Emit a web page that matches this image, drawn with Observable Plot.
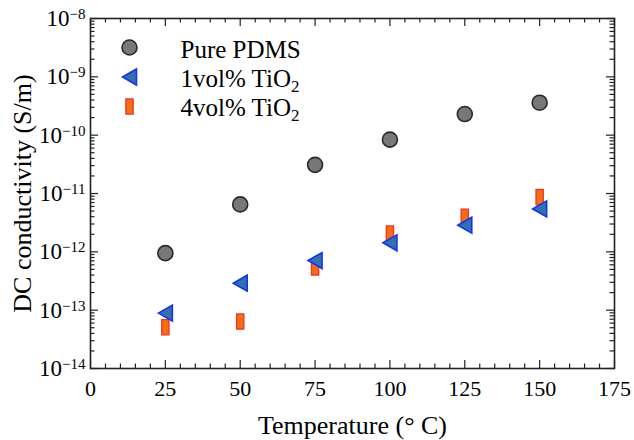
<!DOCTYPE html>
<html><head><meta charset="utf-8">
<script src="https://cdn.jsdelivr.net/npm/d3@7"></script>
<script src="https://cdn.jsdelivr.net/npm/@observablehq/plot@0.6"></script>
<style>
body{margin:0;background:#fff}
#chart svg{font-family:"Liberation Serif","Times New Roman",serif;background:#fff}
#chart svg text{font-family:"Liberation Serif","Times New Roman",serif}
</style>
</head><body><div id="chart"></div>
<script>
// ---- data ----
const temperatures = [25, 50, 75, 100, 125, 150];
const purePDMS   = [9.5e-13, 6.5e-12, 3.1e-11, 8.4e-11, 2.3e-10, 3.6e-10];
const tio2_1vol  = [8.9e-14, 2.9e-13, 7.1e-13, 1.43e-12, 2.86e-12, 5.45e-12];
const tio2_4vol  = [5.1e-14, 6.4e-14, 5.4e-13, 2.06e-12, 4.0e-12, 8.65e-12];
const seriesNames = ["Pure PDMS", "1vol% TiO2", "4vol% TiO2"];
const xMajorTicks = [0, 25, 50, 75, 100, 125, 150, 175];
const yDecades = [-14, -13, -12, -11, -10, -9, -8];
const xLabel = "Temperature (° C)";
const yLabel = "DC conductivity (S/m)";

// ---- derived tables ----
const rows = (vals) => temperatures.map((t, i) => ({t, v: vals[i]}));
const xMinorTicks = d3.range(0, 176, 5).filter(d => d % 25 !== 0);
const yMajorTicks = yDecades.map(e => Math.pow(10, e));
const yMinorTicks = yDecades.slice(0, -1).flatMap(e => d3.range(2, 10).map(k => k * Math.pow(10, e)));

const W = 634, H = 440, mL = 90, mR = 20, mT = 18, mB = 72;
const fw = W - mL - mR, fh = H - mT - mB;
const serif = '"Liberation Serif","Times New Roman",serif';

const leftTriangle = {draw(ctx, size) {
  const r = Math.sqrt(size / Math.PI);
  ctx.moveTo(-0.875 * r, 0); ctx.lineTo(0.875 * r, -r); ctx.lineTo(0.875 * r, r); ctx.closePath();
}};
const tallRect = {draw(ctx, size) {
  const r = Math.sqrt(size / Math.PI);
  ctx.rect(-0.45 * r, -0.95 * r, 0.9 * r, 1.9 * r);
}};

const circleStyle = {r: 7.5, symbol: "circle", fill: "#787878", stroke: "#2a2a2a", strokeWidth: 1.6};
const triStyle = {r: 8, symbol: leftTriangle, fill: "#3370ad", stroke: "#1636e6", strokeWidth: 1.6};
const rectStyle = {r: 8, symbol: tallRect, fill: "#f56e12", stroke: "#ea3a2e", strokeWidth: 1.4};

const tickStyle = {stroke: "#222", strokeWidth: 1.2};
const majorLen = 8, minorLen = 4.5;

const legendMarks = [circleStyle, triStyle, rectStyle].flatMap((st, i) => [
  Plot.dot([0], {x: null, y: null, frameAnchor: "top-left", dx: 39, dy: 29 + i * 29.5, ...st}),
  Plot.text([seriesNames[i]], {x: null, y: null, text: d => d, frameAnchor: "top-left", dx: 90, dy: 31 + i * 29, textAnchor: "start", lineAnchor: "middle", fontSize: 25, fontFamily: serif, fill: "#000"})
]);

const chart = Plot.plot({
  width: W, height: H,
  marginLeft: mL, marginRight: mR, marginTop: mT, marginBottom: mB,
  style: {fontFamily: serif, color: "#000", background: "#fff"},
  x: {domain: [0, 175]},
  y: {type: "log", domain: [1e-14, 1e-8]},
  marks: [
    // ticks (inward, mirrored)
    Plot.ruleX(xMajorTicks, {x: d => d, insetTop: fh - majorLen, ...tickStyle}),
    Plot.ruleX(xMajorTicks, {x: d => d, insetBottom: fh - majorLen, ...tickStyle}),
    Plot.ruleX(xMinorTicks, {x: d => d, insetTop: fh - minorLen, ...tickStyle}),
    Plot.ruleX(xMinorTicks, {x: d => d, insetBottom: fh - minorLen, ...tickStyle}),
    Plot.ruleY(yMajorTicks, {y: d => d, insetRight: fw - majorLen, ...tickStyle}),
    Plot.ruleY(yMajorTicks, {y: d => d, insetLeft: fw - majorLen, ...tickStyle}),
    Plot.ruleY(yMinorTicks, {y: d => d, insetRight: fw - minorLen, ...tickStyle}),
    Plot.ruleY(yMinorTicks, {y: d => d, insetLeft: fw - minorLen, ...tickStyle}),
    Plot.axisX({ticks: xMajorTicks, tickSize: 0, tickPadding: 12, fontSize: 22, fontFamily: serif, label: null, tickFormat: d => String(d)}),
    Plot.axisY({ticks: yMajorTicks, tickSize: 0, tickPadding: 5, fontSize: 23, fontFamily: serif, label: null,
      tickFormat: d => "10^" + Math.round(Math.log10(d))}),
    Plot.text([xLabel], {x: null, y: null, text: d => d, frameAnchor: "bottom", dy: 57, textAnchor: "middle", lineAnchor: "middle", fontSize: 26, fontFamily: serif, fill: "#000"}),
    Plot.text([yLabel], {x: null, y: null, text: d => d, frameAnchor: "left", dx: -68, rotate: -90, textAnchor: "middle", lineAnchor: "middle", fontSize: 26, fontFamily: serif, fill: "#000"}),
    // data
    Plot.dot(rows(purePDMS), {x: "t", y: "v", ...circleStyle}),
    Plot.dot(rows(tio2_4vol), {x: "t", y: "v", ...rectStyle}),
    Plot.dot(rows(tio2_1vol), {x: "t", y: "v", ...triStyle}),
    ...legendMarks,
    Plot.frame({stroke: "#222", strokeWidth: 1.6})
  ]
});

// superscripts for y tick labels
d3.select(chart).selectAll('g[aria-label="y-axis tick label"] text').each(function() {
  const s = d3.select(this);
  const txt = s.text();
  const m = txt.match(/^10\^(-?\d+)$/);
  if (!m) return;
  s.text(null);
  s.append("tspan").text("10");
  s.append("tspan").attr("dy", "-0.45em").attr("font-size", 15).text(m[1].replace("-", "\u2212"));
});
// subscripts for TiO2 in legend
d3.select(chart).selectAll("text").each(function() {
  const s = d3.select(this);
  if (s.selectAll("tspan").size() > 0) return;
  const txt = s.text();
  if (/TiO2$/.test(txt)) {
    s.text(null);
    s.append("tspan").text(txt.slice(0, -1));
    s.append("tspan").attr("dy", "0.3em").attr("font-size", 17).text("2");
  }
});

document.getElementById("chart").appendChild(chart);
</script>
</body></html>
